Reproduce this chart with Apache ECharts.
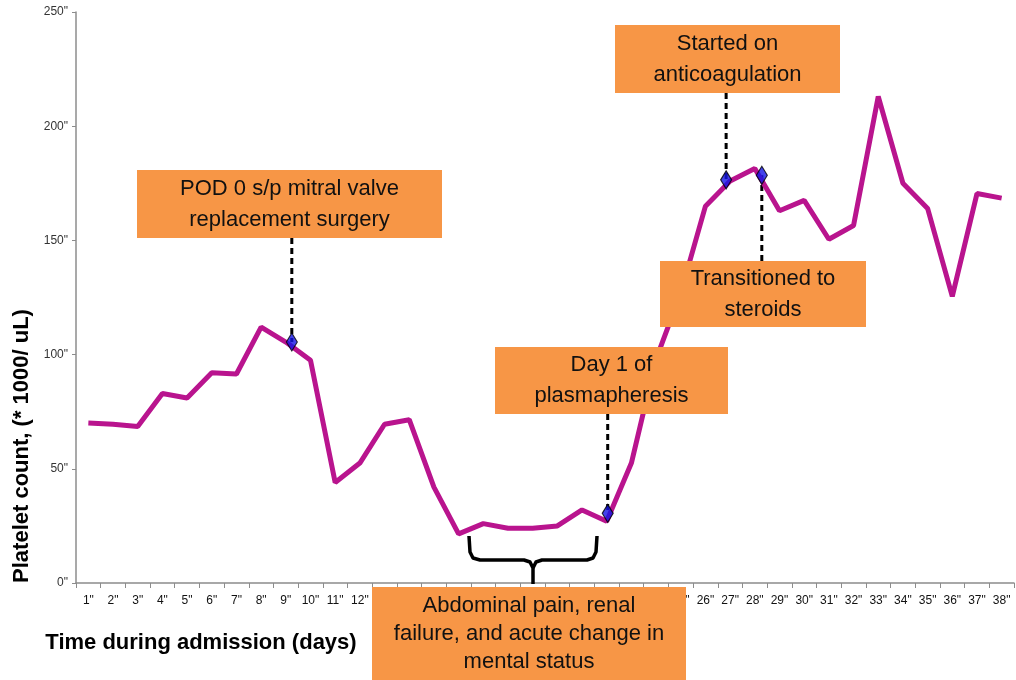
<!DOCTYPE html>
<html>
<head>
<meta charset="utf-8">
<script src="https://cdn.jsdelivr.net/npm/echarts@6/dist/echarts.min.js"></script>
<style>
html, body { margin: 0; padding: 0; background: #fff; }
#chart { width: 1016px; height: 680px; }
</style>
</head>
<body>
<div id="chart"></div>
<script>
// days of admission
const dayLabels = ['1"', '2"', '3"', '4"', '5"', '6"', '7"', '8"', '9"', '10"',
  '11"', '12"', '13"', '14"', '15"', '16"', '17"', '18"', '19"', '20"',
  '21"', '22"', '23"', '24"', '25"', '26"', '27"', '28"', '29"', '30"',
  '31"', '32"', '33"', '34"', '35"', '36"', '37"', '38"']
// platelet count (* 1000/uL)
const platelets = [70, 69.5, 68.5, 83, 81, 92, 91.5, 112, 105.5, 97.5,
  44, 52.5, 69.5, 71.5, 42, 21.5, 26, 24, 24, 25,
  32, 27, 52.5, 98, 127, 165, 176, 181.5, 163, 167.5,
  150.5, 156.5, 213, 175, 164, 125.5, 170.5, 168.5]
const yTicks = ['0"', '50"', '100"', '150"', '200"', '250"']

// events marked with a diamond
const eventDays = [9, 22, 27, 28]
const eventValues = [105.5, 30.5, 176.5, 178.5]
const eventLabels = [
  'POD 0 s/p mitral valve\nreplacement surgery',
  'Day 1 of\nplasmapheresis',
  'Started on\nanticoagulation',
  'Transitioned to\nsteroids',
]
const braceLabel = 'Abdominal pain, renal\nfailure, and acute change in\nmental status'

const ORANGE = '#f79646'
const FONT = '"Liberation Sans", Arial, sans-serif'

// annotation boxes (pixel layout); dx nudges the diamond off the category centre
const boxes = [
  { x: 137, y: 170, w: 305, h: 68, side: 'top', dx: 6 },
  { x: 495, y: 347, w: 233, h: 67, side: 'top', dx: 1 },
  { x: 615, y: 25, w: 225, h: 68, side: 'top', dx: -4 },
  { x: 660, y: 261, w: 206, h: 66, side: 'bottom', dx: 7 },
]

var chart = echarts.init(document.getElementById('chart'))
chart.setOption({
  animation: false,
  grid: { left: 76, right: 2, top: 12, bottom: 97 },
  xAxis: {
    type: 'category',
    data: dayLabels,
    axisLine: { lineStyle: { color: '#8c8c8c', width: 1.5 } },
    axisTick: { show: true, length: 5, lineStyle: { color: '#8c8c8c' } },
    axisLabel: { interval: 0, margin: 12, color: '#111', fontSize: 12, fontFamily: FONT },
  },
  yAxis: {
    type: 'value',
    min: 0,
    max: 250,
    interval: 50,
    splitLine: { show: false },
    axisLine: { show: true, lineStyle: { color: '#8c8c8c', width: 1.5 } },
    axisTick: { show: true, length: 4, lineStyle: { color: '#8c8c8c' } },
    axisLabel: {
      margin: 8, color: '#333', fontSize: 12, fontFamily: FONT,
      formatter: (v) => yTicks[v / 50],
    },
  },
  series: [
    {
      type: 'line',
      data: platelets,
      symbol: 'none',
      lineStyle: { color: '#b9148e', width: 5 },
      z: 3,
    },
    {
      type: 'scatter',
      data: eventDays.map((d, i) => ({ value: [d - 1, eventValues[i]], symbolOffset: [boxes[i].dx, 0] })),
      symbol: 'diamond',
      symbolSize: [11, 18],
      itemStyle: { color: '#1414e6', borderColor: '#000', borderWidth: 1.2 },
      z: 5,
    },
  ],
})

const graphics = []
const addBox = (b, text, lineH) => {
  graphics.push({
    type: 'rect', z: 100,
    shape: { x: b.x, y: b.y, width: b.w, height: b.h },
    style: { fill: ORANGE },
  })
  graphics.push({
    type: 'text', z: 101,
    style: {
      text: text, x: b.x + b.w / 2, y: b.y + b.h / 2,
      align: 'center', verticalAlign: 'middle',
      font: '22px ' + FONT, lineHeight: lineH, fill: '#111',
    },
  })
}

eventDays.forEach((d, i) => {
  const p = chart.convertToPixel({ seriesIndex: 1 }, [d - 1, eventValues[i]])
  const b = boxes[i]
  const edge = b.side === 'top' ? b.y + b.h : b.y
  const x = p[0] + b.dx
  graphics.push({
    type: 'line', z: 1,
    shape: { x1: x, y1: edge, x2: x, y2: p[1] },
    style: { stroke: '#000', lineWidth: 3, lineDash: [6, 4] },
  })
  addBox(b, eventLabels[i], 31)
})

// curly brace under the low plateau
const braceStyle = { stroke: '#000', lineWidth: 3.5, fill: null, lineJoin: 'round' }
graphics.push({
  type: 'polyline', z: 50,
  shape: { points: [[469, 536], [470, 552], [473, 558], [480, 560], [524, 560], [530, 562], [533, 568], [533, 584]] },
  style: braceStyle,
})
graphics.push({
  type: 'polyline', z: 50,
  shape: { points: [[533, 568], [536, 562], [542, 560], [587, 560], [593, 558], [596, 552], [597, 536]] },
  style: braceStyle,
})
addBox({ x: 372, y: 587, w: 314, h: 93 }, braceLabel, 28)

// axis titles
graphics.push({
  type: 'text', z: 60,
  style: {
    text: 'Time during admission (days)', x: 201, y: 643,
    align: 'center', verticalAlign: 'middle', font: 'bold 22px ' + FONT, fill: '#000',
  },
})
graphics.push({
  type: 'text', z: 60, x: 22, y: 446, rotation: Math.PI / 2,
  style: {
    text: 'Platelet count, (* 1000/ uL)', x: 0, y: 0,
    align: 'center', verticalAlign: 'middle', font: 'bold 22px ' + FONT, fill: '#000',
  },
})

chart.setOption({ graphic: graphics })
</script>
</body>
</html>
